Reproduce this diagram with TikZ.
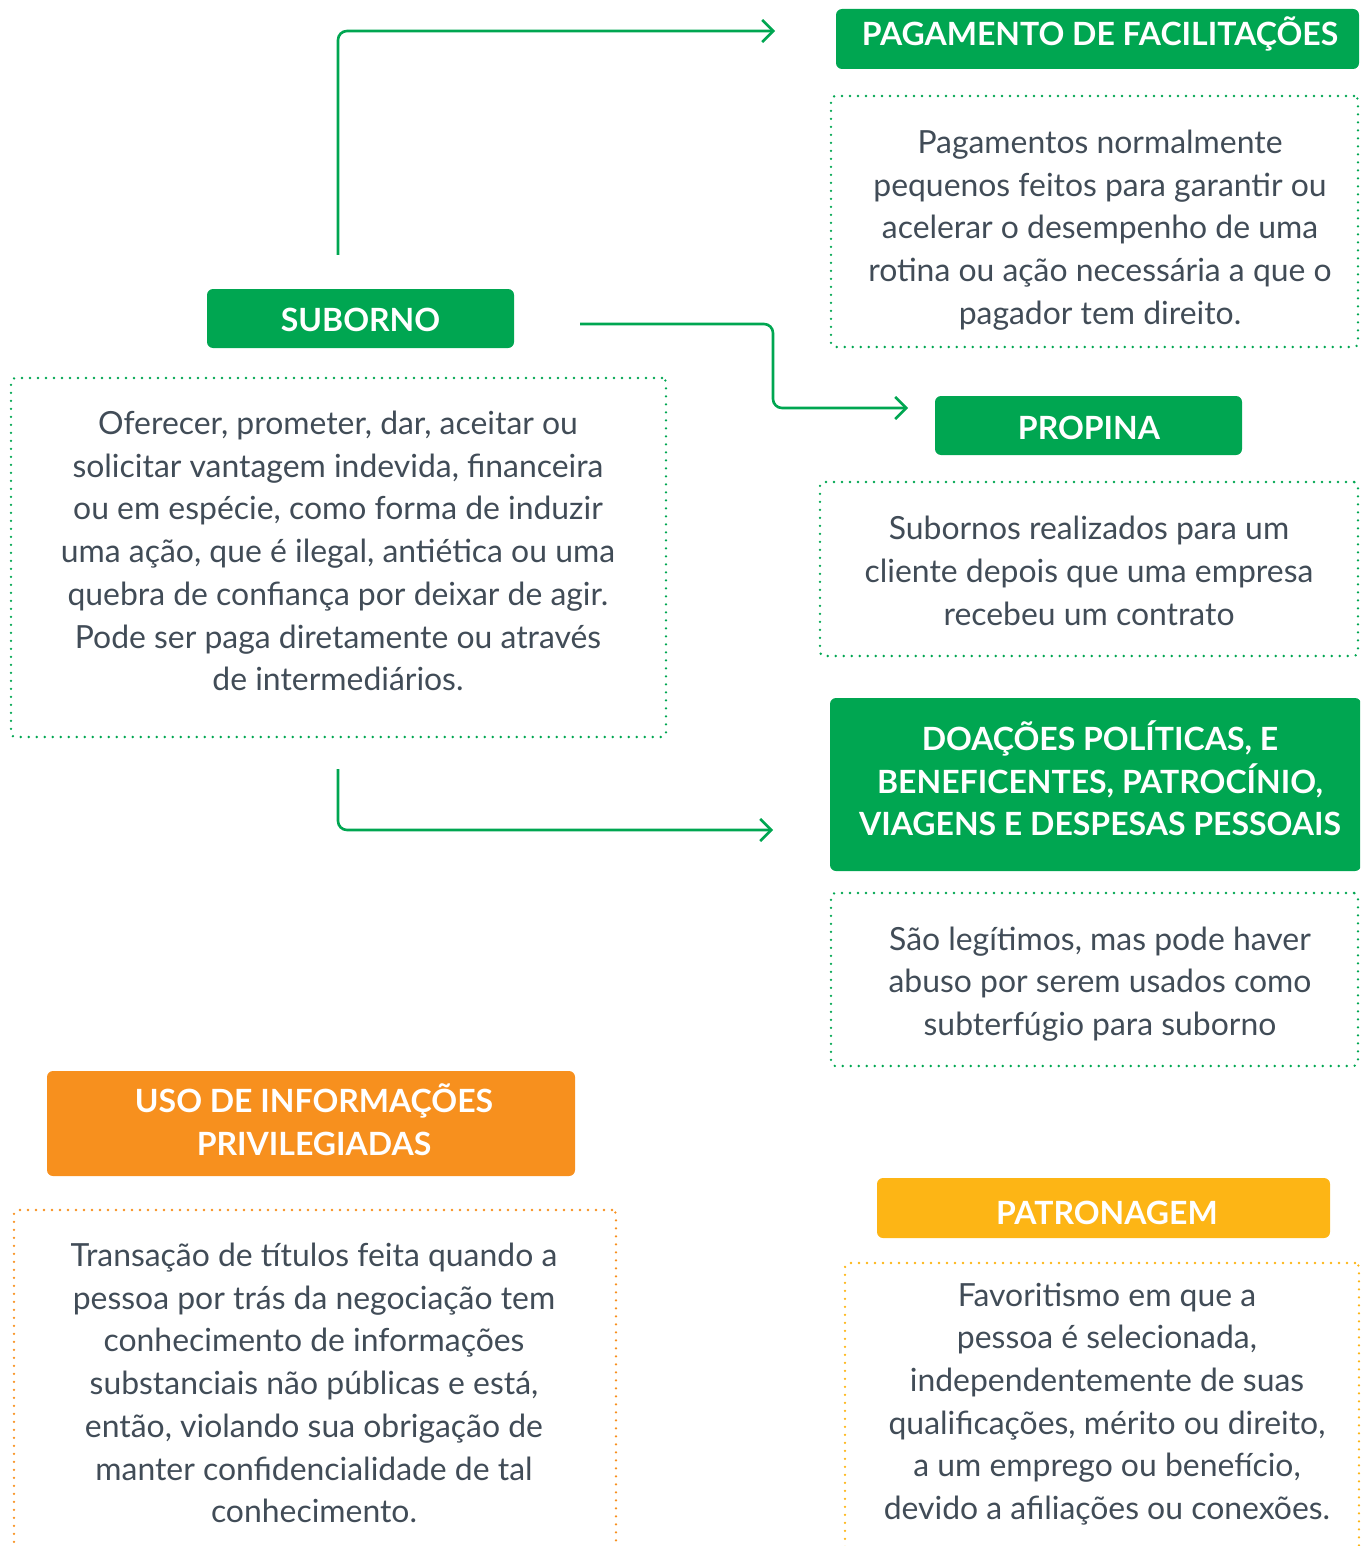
\documentclass[tikz,border=0pt]{standalone}
\usepackage{fontspec}
\setmainfont{Lato}
\usetikzlibrary{arrows.meta}
\definecolor{brandgreen}{HTML}{00A651}
\definecolor{brandorange}{HTML}{F7901E}
\definecolor{brandyellow}{HTML}{FDB515}
\definecolor{bodytext}{HTML}{414C57}
\begin{document}
\begin{tikzpicture}[x=1pt,y=-1pt,
  head/.style={fill=#1, rounded corners=6pt, inner sep=0pt, text=white,
    font=\fontsize{32}{42.7}\selectfont\bfseries, align=center},
  frame/.style={draw=#1, line width=2.6pt, dash pattern=on 0pt off 8pt,
    line cap=round, rounded corners=4pt, inner sep=0pt},
  desc/.style={text=bodytext, align=center, inner sep=0pt,
    font=\fontsize{31.9}{42.7}\selectfont},
  conn/.style={draw=brandgreen, line width=2.6pt, rounded corners=9pt,
    -{Straight Barb[length=11pt,width=22pt,line width=2.6pt]}}
]
\useasboundingbox (0,0) rectangle (1360,1546);
\clip (0,0) rectangle (1360,1546);

% ---- SUBORNO ----
\node[head=brandgreen, minimum width=307pt, minimum height=59pt] (suborno) at (360.5,318.5) {};
\node[text=white, font=\fontsize{32}{42.7}\selectfont\bfseries] (subornolbl) at (360.5,319.5) {SUBORNO};
\node[frame=brandgreen, minimum width=655pt, minimum height=359pt] (subornobox) at (338.5,557.5) {};
\node[desc] (subornotxt) at (338,551) {Oferecer, prometer, dar, aceitar ou\\
solicitar vantagem indevida, financeira\\
ou em espécie, como forma de induzir\\
uma ação, que é ilegal, antiética ou uma\\
quebra de confiança por deixar de agir.\\
Pode ser paga diretamente ou através\\
de intermediários.};

% ---- PAGAMENTO DE FACILITAÇÕES ----
\node[head=brandgreen, minimum width=523pt, minimum height=60pt] (pagamento) at (1097.5,39) {};
\node[text=white, font=\fontsize{32}{42.7}\selectfont\bfseries] (pagamentolbl) at (1100,34) {PAGAMENTO DE FACILITAÇÕES};
\node[frame=brandgreen, minimum width=527pt, minimum height=251pt] (pagamentobox) at (1094.5,221.5) {};
\node[desc] (pagamentotxt) at (1100,230) {Pagamentos normalmente\\
pequenos feitos para garantir ou\\
acelerar o desempenho de uma\\
rotina ou ação necessária a que o\\
pagador tem direito.};

% ---- PROPINA ----
\node[head=brandgreen, minimum width=307pt, minimum height=59pt] (propina) at (1088.5,425.5) {};
\node[text=white, font=\fontsize{32}{42.7}\selectfont\bfseries] (propinalbl) at (1089,427.5) {PROPINA};
\node[frame=brandgreen, minimum width=538pt, minimum height=174pt] (propinabox) at (1089,569) {};
\node[desc] (propinatxt) at (1089,571) {Subornos realizados para um\\
cliente depois que uma empresa\\
recebeu um contrato};

% ---- DOAÇÕES ----
\node[head=brandgreen, minimum width=531pt, minimum height=173pt] (doacoes) at (1095.5,784.5) {};
\node[align=center, text=white, font=\fontsize{32}{42.7}\selectfont\bfseries] (doacoeslbl) at (1100,778.5) {DOAÇÕES POLÍTICAS, E\\BENEFICENTES, PATROCÍNIO,\\VIAGENS E DESPESAS PESSOAIS};
\node[frame=brandgreen, minimum width=527pt, minimum height=173pt] (doacoesbox) at (1094.5,979.5) {};
\node[desc] (doacoestxt) at (1100,984) {São legítimos, mas pode haver\\
abuso por serem usados como\\
subterfúgio para suborno};

% ---- USO DE INFORMAÇÕES PRIVILEGIADAS ----
\node[head=brandorange, minimum width=528pt, minimum height=105pt] (uso) at (311,1123.5) {};
\node[align=center, text=white, font=\fontsize{32}{42.7}\selectfont\bfseries] (usolbl) at (314,1119.5) {USO DE INFORMAÇÕES\\PRIVILEGIADAS};
\node[frame=brandorange, minimum width=602pt, minimum height=400pt] (usobox) at (315,1410) {};
\node[desc] (usotxt) at (314,1383) {Transação de títulos feita quando a\\
pessoa por trás da negociação tem\\
conhecimento de informações\\
substanciais não públicas e está,\\
então, violando sua obrigação de\\
manter confidencialidade de tal\\
conhecimento.};

% ---- PATRONAGEM ----
\node[head=brandyellow, minimum width=453pt, minimum height=60pt] (patronagem) at (1103.5,1208) {};
\node[text=white, font=\fontsize{32}{42.7}\selectfont\bfseries] (patronagemlbl) at (1107,1213) {PATRONAGEM};
\node[frame=brandyellow, minimum width=514pt, minimum height=340pt] (patronagembox) at (1102,1433) {};
\node[desc] (patronagemtxt) at (1107,1404) {Favoritismo em que a\\
pessoa é selecionada,\\
independentemente de suas\\
qualificações, mérito ou direito,\\
a um emprego ou benefício,\\
devido a afiliações ou conexões.};

% ---- connectors ----
\coordinate (up0) at (338,255);
\coordinate (up1) at (775,31);
\coordinate (mid0) at (580,324);
\coordinate (midbend) at (773,366);
\coordinate (mid1) at (908,408);
\coordinate (dn0) at (338,769);
\coordinate (dn1) at (773,830);

\draw[conn] (up0) |- (up1);
\draw[conn] (mid0) -| (midbend) |- (mid1);
\draw[conn] (dn0) |- (dn1);
\end{tikzpicture}
\end{document}
